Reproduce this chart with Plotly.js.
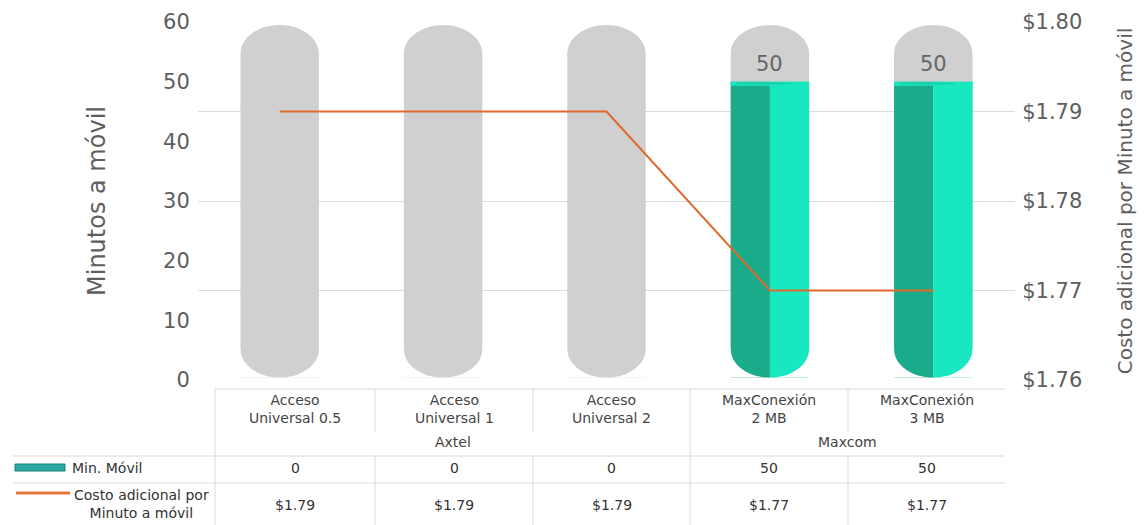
<!DOCTYPE html>
<html><head><meta charset="utf-8">
<script src="https://cdn.plot.ly/plotly-3.0.1.min.js"></script>
<style>html,body{margin:0;padding:0;background:#fff}#chart{width:1144px;height:525px}</style>
</head><body><div id="chart"></div>
<script>
// ---- data ----
const categories = ["Acceso Universal 0.5","Acceso Universal 1","Acceso Universal 2","MaxConexión 2 MB","MaxConexión 3 MB"];
const categoryLabels = ["Acceso<br>Universal 0.5","Acceso<br>Universal 1","Acceso<br>Universal 2","MaxConexión<br>2 MB","MaxConexión<br>3 MB"];
const groups = ["Axtel","Axtel","Axtel","Maxcom","Maxcom"];
const minutos = [0,0,0,50,50];
const costo = [1.79,1.79,1.79,1.77,1.77];
const minutosTicks = [0,10,20,30,40,50,60];
const costoTicks = [1.76,1.77,1.78,1.79,1.80];
const seriesNames = ["Min. Móvil","Costo adicional por<br>Minuto a móvil"];
const axisTitles = ["Minutos a móvil","Costo adicional por Minuto a móvil"];

// ---- layout constants (pixels / styles) ----
const W = 1144, H = 525, L = 198, R = 1015, T = 22, B = 380;
const colEdges = [215,375,533,690,848,1005];
const tableTop = 389, groupRowBottom = 456, row1Bottom = 483, tableLeft = 13;
const barW = 0.48, hw = barW/2;
const trackBase = 0.4, trackTop = 59.5, capRy = 4.8, K = 0.5523;
const gray = '#d0d0d0', tealDark = '#1aab8b', tealLight = '#18e8c0', orange = '#e06a2c';
const lineCol = '#d9d9d9', textCol = '#5e5e5e', tblText = '#333333';
const FONT = 'DejaVu Sans';

const px2x = p => (p - L) / (R - L);
const px2y = p => (B - p) / (B - T);
const idx = categories.map((c, i) => i);

// ---- traces ----
const traces = [
  { type:'bar', x: idx, y: idx.map(() => trackTop - trackBase), base: trackBase, width: barW,
    marker:{color: gray, line:{width:0}}, hoverinfo:'skip', showlegend:false },
  { type:'bar', name: seriesNames[0], x: idx, y: minutos.map(v => v > 0 ? v - trackBase : 0), base: trackBase,
    width: hw, offset: -hw, marker:{color: tealDark, line:{width:0}}, showlegend:false },
  { type:'bar', name: seriesNames[0], x: idx, y: minutos.map(v => v > 0 ? v - trackBase : 0), base: trackBase,
    width: hw, offset: 0, marker:{color: tealLight, line:{width:0}}, showlegend:false },
  { type:'scatter', mode:'lines', name: seriesNames[1], x: idx, y: costo, yaxis:'y2',
    line:{color: orange, width:2}, showlegend:false }
];

// ---- shapes: rounded caps (masks), top lips, table ----
const shapes = [];
const e = 0.012;
idx.forEach(i => {
  const c = i, b = trackBase, t = trackTop;
  shapes.push({type:'path', xref:'x', yref:'y', layer:'above', fillcolor:'#fff', line:{width:0},
    path:`M ${c-hw-e} ${b} L ${c-hw-e} ${b+capRy} L ${c-hw} ${b+capRy} C ${c-hw} ${b+capRy*(1-K)} ${c-K*hw} ${b} ${c} ${b} Z`});
  shapes.push({type:'path', xref:'x', yref:'y', layer:'above', fillcolor:'#fff', line:{width:0},
    path:`M ${c+hw+e} ${b} L ${c+hw+e} ${b+capRy} L ${c+hw} ${b+capRy} C ${c+hw} ${b+capRy*(1-K)} ${c+K*hw} ${b} ${c} ${b} Z`});
  shapes.push({type:'path', xref:'x', yref:'y', layer:'above', fillcolor:'#fff', line:{width:0},
    path:`M ${c-hw-e} ${t} L ${c-hw-e} ${t-capRy} L ${c-hw} ${t-capRy} C ${c-hw} ${t-capRy*(1-K)} ${c-K*hw} ${t} ${c} ${t} Z`});
  shapes.push({type:'path', xref:'x', yref:'y', layer:'above', fillcolor:'#fff', line:{width:0},
    path:`M ${c+hw+e} ${t} L ${c+hw+e} ${t-capRy} L ${c+hw} ${t-capRy} C ${c+hw} ${t-capRy*(1-K)} ${c+K*hw} ${t} ${c} ${t} Z`});
  const v = minutos[i];
  if (v > 0) {
    shapes.push({type:'rect', xref:'x', yref:'y', layer:'above', x0:c-hw, x1:c+hw, y0:v-0.7, y1:v,
      fillcolor: tealLight, line:{width:0}});
    shapes.push({type:'circle', xref:'x', yref:'y', layer:'above', x0:c-hw*0.9, x1:c+hw*0.6, y0:v-0.5, y1:v-0.1,
      fillcolor:'#19cfaa', line:{width:0}});
  }
});

function hline(y, x0, x1){ shapes.push({type:'line', xref:'paper', yref:'paper', x0:px2x(x0), x1:px2x(x1), y0:px2y(y), y1:px2y(y), line:{color:lineCol, width:1}}); }
function vline(x, y0, y1){ shapes.push({type:'line', xref:'paper', yref:'paper', x0:px2x(x), x1:px2x(x), y0:px2y(y0), y1:px2y(y1), line:{color:lineCol, width:1}}); }

hline(tableTop, colEdges[0], colEdges[colEdges.length-1]);
hline(groupRowBottom, tableLeft, colEdges[colEdges.length-1]);
hline(row1Bottom, tableLeft, colEdges[colEdges.length-1]);
vline(colEdges[0], tableTop, H);
for (let k = 1; k < colEdges.length - 1; k++) {
  const groupBoundary = groups[k] !== groups[k-1];
  vline(colEdges[k], tableTop, groupBoundary ? H : 432);
  if (!groupBoundary) vline(colEdges[k], groupRowBottom, H);
}
// legend icons
shapes.push({type:'rect', xref:'paper', yref:'paper', x0:px2x(15), x1:px2x(65), y0:px2y(471), y1:px2y(464),
  fillcolor:'#2aa9a3', line:{color:'#1d7f7b', width:1}});
shapes.push({type:'line', xref:'paper', yref:'paper', x0:px2x(16), x1:px2x(70), y0:px2y(493), y1:px2y(493),
  line:{color:'#e8763a', width:3}});

// ---- annotations ----
const TS = 14;
const annotations = [];
idx.forEach(i => {
  if (minutos[i] > 0) annotations.push({x:i, y:minutos[i], xref:'x', yref:'y', text:String(minutos[i]),
    showarrow:false, yanchor:'middle', yshift:18, font:{family:FONT, size:21, color:'#666'}});
  const cx = (colEdges[i] + colEdges[i+1]) / 2;
  annotations.push({x:px2x(cx), y:px2y(409), xref:'paper', yref:'paper', text:categoryLabels[i], showarrow:false,
    xanchor:'center', yanchor:'middle', font:{family:FONT, size:TS, color:'#444'}});
  annotations.push({x:px2x(cx), y:px2y(468), xref:'paper', yref:'paper', text:String(minutos[i]), showarrow:false,
    xanchor:'center', yanchor:'middle', font:{family:FONT, size:TS, color:tblText}});
  annotations.push({x:px2x(cx), y:px2y(505), xref:'paper', yref:'paper', text:'$' + costo[i].toFixed(2), showarrow:false,
    xanchor:'center', yanchor:'middle', font:{family:FONT, size:TS, color:tblText}});
});
let s = 0;
for (let i = 1; i <= groups.length; i++) {
  if (i === groups.length || groups[i] !== groups[s]) {
    const cx = (colEdges[s] + colEdges[i]) / 2;
    annotations.push({x:px2x(cx), y:px2y(442), xref:'paper', yref:'paper', text:groups[s], showarrow:false,
      xanchor:'center', yanchor:'middle', font:{family:FONT, size:TS, color:'#444'}});
    s = i;
  }
}
annotations.push({x:px2x(70), y:px2y(468), xref:'paper', yref:'paper', text:seriesNames[0], showarrow:false,
  xanchor:'left', yanchor:'middle', font:{family:FONT, size:TS, color:tblText}});
annotations.push({x:px2x(141), y:px2y(504), xref:'paper', yref:'paper', text:seriesNames[1], showarrow:false,
  xanchor:'center', yanchor:'middle', align:'center', font:{family:FONT, size:TS, color:tblText}});

const layout = {
  width: W, height: H,
  margin:{l:L, r:W-R, t:T, b:H-B, pad:0},
  paper_bgcolor:'#fff', plot_bgcolor:'#fff',
  font:{family:FONT, color:textCol},
  showlegend:false, barmode:'overlay',
  xaxis:{range:[-0.5, categories.length-0.5], showticklabels:false, showgrid:false, zeroline:false, showline:false, ticks:'', fixedrange:true},
  yaxis:{range:[minutosTicks[0], minutosTicks[minutosTicks.length-1]], tickvals:minutosTicks, showgrid:false, zeroline:false, showline:false,
    ticks:'outside', ticklen:3, tickcolor:'rgba(0,0,0,0)', tickfont:{family:FONT, size:21, color:textCol},
    title:{text:axisTitles[0], font:{family:FONT, size:24, color:textCol}, standoff:50}, fixedrange:true},
  yaxis2:{overlaying:'y', side:'right', range:[costoTicks[0], costoTicks[costoTicks.length-1]], tickvals:costoTicks,
    ticktext:costoTicks.map(v => '$' + v.toFixed(2)), showgrid:true, gridcolor:'#dcdcdc', gridwidth:1, zeroline:false, showline:false,
    ticks:'outside', ticklen:2, tickcolor:'rgba(0,0,0,0)', tickfont:{family:FONT, size:21, color:textCol},
    title:{text:axisTitles[1], font:{family:FONT, size:20, color:textCol}, standoff:36}, fixedrange:true},
  shapes, annotations
};
Plotly.newPlot('chart', traces, layout, {staticPlot:true, displayModeBar:false});
</script></body></html>
